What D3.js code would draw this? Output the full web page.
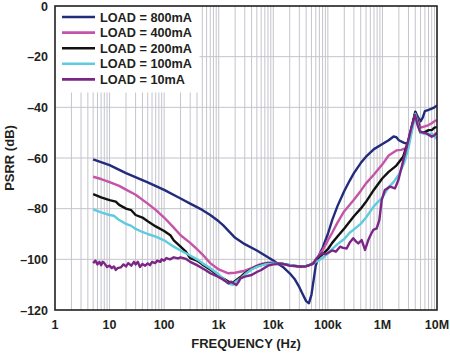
<!DOCTYPE html>
<html>
<head>
<meta charset="utf-8">
<script src="https://cdn.jsdelivr.net/npm/d3@7"></script>
<style>
  body { margin: 0; background: #fff; }
  #chart { width: 450px; height: 353px; }
  text { font-family: "Liberation Sans", Arial, sans-serif; font-weight: bold; fill: #231f20; }
</style>
</head>
<body>
<div id="chart"></div>
<script>
// load labels + tick values
const loadLabels = ["LOAD = 800mA", "LOAD = 400mA", "LOAD = 200mA", "LOAD = 100mA", "LOAD = 10mA"];
const loadColors = ["#222b7c", "#c553a8", "#111111", "#5fcbdf", "#7b2686"];
const yTicks = [0, -20, -40, -60, -80, -100, -120];
const xTicks = [1, 10, 100, 1e3, 1e4, 1e5, 1e6, 1e7];
const xTickLabels = ["1", "10", "100", "1k", "10k", "100k", "1M", "10M"];

// LOAD = 800mA
const freq800 = [5,10,20,50,100,200,300,500,700,1000,1200,2000,3000,5000,10000,15000,20000,25000,30000,35000,40000,45000,50000,55000,60000,70000,80000,100000,120000,150000,200000,250000,300000,400000,500000,700000,1e6,1.3e6,1.6e6,1.8e6,2e6,2.5e6,3e6,3.5e6,4e6,4.5e6,5e6,5.5e6,6e6,7e6,8e6,9e6,1e7];
const psrr800 = [-60.5,-62.8,-66,-69.6,-72.6,-76,-78,-80.5,-82.5,-85,-86.5,-91.5,-94,-96.5,-100.5,-103,-105.5,-108,-111,-114,-116.5,-117.3,-114,-108,-102.5,-98,-95.5,-90,-84.5,-79,-73,-69,-66,-62,-59.5,-56.5,-54.5,-53,-51.5,-51.8,-53,-54,-54.5,-48,-41.7,-44,-45.5,-44,-41.5,-41,-40.5,-40,-39.2];

// LOAD = 400mA
const freq400 = [5,7,10,15,20,30,50,70,100,150,200,300,400,500,700,1000,1500,2000,3000,4000,5000,6000,8000,10000,15000,20000,30000,40000,50000,60000,70000,80000,100000,120000,150000,200000,300000,400000,500000,700000,1e6,1.3e6,1.8e6,2.2e6,2.8e6,3.3e6,4e6,4.5e6,5e6,6e6,7e6,8e6,9e6,1e7];
const psrr400 = [-67.4,-68.3,-69.5,-71,-72.5,-74.5,-78,-80.5,-83.5,-87.5,-90.5,-93.5,-96,-98,-101.5,-104,-105.5,-105.3,-104.5,-103.5,-102.5,-101.8,-101.3,-101.3,-101.8,-102.5,-103,-102.8,-102,-100.5,-98,-96.5,-92.5,-89.5,-85.5,-81,-76.5,-73,-70,-66.5,-62.5,-59,-57,-56.8,-56,-50,-42.4,-45,-48,-47.5,-47,-46.3,-45.5,-45];

// LOAD = 200mA
const freq200 = [5,7,10,13,15,20,25,30,40,50,70,100,130,150,200,250,300,400,500,700,1000,1500,1800,2000,2500,3000,4000,5000,7000,10000,15000,20000,30000,40000,50000,60000,70000,80000,100000,120000,150000,200000,300000,400000,500000,700000,1e6,1.3e6,1.8e6,2.4e6,3e6,3.5e6,4e6,4.5e6,5e6,6e6,7e6,8e6,9e6,1e7];
const psrr200 = [-74.3,-75.5,-76.6,-77.2,-78.5,-80,-80.6,-82.5,-83.5,-85,-87,-88.8,-90.5,-92.5,-95,-97,-99.5,-100.5,-102,-104,-106.5,-108.8,-109.3,-108.5,-107,-105.5,-103.8,-102.8,-101.8,-101.5,-101.8,-102.3,-102.8,-102.7,-102,-100.5,-99,-98,-96,-93.5,-91,-87.8,-83,-80,-77.3,-72.5,-68,-65.5,-63,-59.5,-53,-47,-42,-46,-50,-49.8,-49,-49,-48,-47.8];

// LOAD = 100mA
const freq100 = [5,7,10,12,15,20,25,30,40,50,70,100,150,200,300,400,500,700,1000,1500,1800,2000,2500,3000,4000,5000,7000,10000,20000,30000,40000,50000,60000,70000,80000,100000,120000,150000,200000,250000,300000,400000,500000,700000,1e6,1.3e6,1.6e6,2e6,2.5e6,3e6,3.5e6,4e6,4.5e6,5e6,6e6,7e6,8e6,9e6,1e7];
const psrr100 = [-80.3,-81.5,-82.5,-82.8,-84.5,-86,-86.8,-88,-89.2,-90,-91,-92.5,-95,-96.5,-98.5,-100,-101.5,-103.5,-106,-109.5,-110.1,-109,-107.5,-106,-104,-103,-102,-101.6,-102.2,-102.8,-102.6,-102,-101,-100.3,-99.5,-97.6,-96,-94,-92,-89.5,-88.2,-86,-83.5,-79,-75.5,-71.5,-69.5,-66.5,-62,-56,-49,-42.5,-47,-50,-50.5,-50.8,-50.3,-51.5,-52.5];

// LOAD = 10mA
const freq10 = [5,5.5,6,6.5,7,7.5,8,9,10,11,12,13,14,16,18,20,22,25,28,30,33,36,40,45,50,55,60,68,75,85,90,100,110,128,150,180,200,250,300,400,500,600,700,900,1100,1300,1500,1700,1900,2100,2300,2500,3000,4000,5000,6000,8000,10000,15000,20000,30000,40000,50000,55000,60000,70000,80000,90000,100000,120000,140000,167000,190000,221000,250000,292000,330000,361000,417000,480000,551000,620000,680000,785000,877000,970000,1110000,1380000,1700000,1960000,2380000,2790000,3300000,3950000,4400000,4880000,5600000,6460000,8000000,9000000,1e7];
const psrr10 = [-101.5,-100.5,-102,-101,-102.3,-101,-101.5,-103,-102.5,-103.5,-102.8,-104.2,-103.5,-103.2,-102,-102.8,-101.5,-102.5,-101,-102,-101,-103,-101.8,-102.5,-101.6,-102.3,-101,-101.5,-100.5,-101,-100,-100.5,-99.5,-100,-99.2,-99.6,-99.2,-99.8,-101,-102.3,-103.5,-104.5,-105.5,-106.5,-107.5,-108.5,-109.5,-108.8,-109.5,-110.1,-109,-107.5,-106.8,-106.2,-105,-104.2,-102.5,-102,-101.8,-102.5,-102.8,-102.7,-102,-101.6,-100,-98.5,-97.5,-98,-97.5,-96.5,-97,-95,-95.5,-95.7,-93.5,-91.7,-93,-93.7,-92.4,-96.3,-92.4,-90,-88.4,-87.8,-84.5,-76.6,-72.6,-71.3,-72,-68.7,-61.5,-55.5,-49,-43,-47,-49.6,-50,-50.3,-51.6,-51,-50];

class PsrrChart {
    constructor(containerId) {
        this.containerId = containerId;
        this.margin = { top: 6, right: 13, bottom: 43, left: 55 };
        this.width = 450 - this.margin.left - this.margin.right;
        this.height = 353 - this.margin.top - this.margin.bottom;

        this.series = [
            { freq: freq800, psrr: psrr800 },
            { freq: freq400, psrr: psrr400 },
            { freq: freq200, psrr: psrr200 },
            { freq: freq100, psrr: psrr100 },
            { freq: freq10, psrr: psrr10 }
        ].map((s, i) => ({
            label: loadLabels[i],
            color: loadColors[i],
            values: s.freq.map((f, j) => ({ f: f, v: s.psrr[j] }))
        }));

        this.initChart();
    }

    initChart() {
        let viz = this;
        viz.xScale = d3.scaleLog().domain([1, 1e7]).range([0, viz.width]);
        viz.yScale = d3.scaleLinear().domain([-120, 0]).range([viz.height, 0]);
        this.drawChart();
    }

    drawChart() {
        let viz = this;
        const svg = d3.select(`#${this.containerId}`)
            .append("svg")
            .attr("width", 450)
            .attr("height", 353);

        const g = svg.append("g")
            .attr("transform", "translate(" + this.margin.left + "," + this.margin.top + ")");

        // minor log grid
        const vGrid = [];
        for (let d = 0; d < 7; d++) {
            for (let m = 1; m < 10; m++) {
                const v = m * Math.pow(10, d);
                if (v > 1) vGrid.push(v);
            }
        }
        g.append("g").selectAll("line")
            .data(vGrid)
            .enter().append("line")
            .attr("x1", d => viz.xScale(d))
            .attr("x2", d => viz.xScale(d))
            .attr("y1", 0)
            .attr("y2", viz.height)
            .attr("stroke", "#c4c4cc")
            .attr("stroke-width", 1);

        g.append("g").selectAll("line")
            .data(yTicks.filter(d => d > -120 && d < 0))
            .enter().append("line")
            .attr("x1", 0)
            .attr("x2", viz.width)
            .attr("y1", d => viz.yScale(d))
            .attr("y2", d => viz.yScale(d))
            .attr("stroke", "#c4c4cc")
            .attr("stroke-width", 1);

        // legend background hides the grid
        g.append("rect")
            .attr("x", 0.5)
            .attr("y", 0.5)
            .attr("width", 144)
            .attr("height", 86)
            .attr("fill", "#fff");

        g.append("clipPath").attr("id", "plotClip")
            .append("rect").attr("width", viz.width).attr("height", viz.height);

        const line = d3.line()
            .x(d => viz.xScale(d.f))
            .y(d => viz.yScale(d.v));

        g.append("g").attr("clip-path", "url(#plotClip)")
            .selectAll("path")
            .data(viz.series)
            .enter().append("path")
            .attr("d", d => line(d.values))
            .attr("fill", "none")
            .attr("stroke", d => d.color)
            .attr("stroke-width", 2.4)
            .attr("stroke-linejoin", "round");

        // frame
        g.append("rect")
            .attr("width", viz.width)
            .attr("height", viz.height)
            .attr("fill", "none")
            .attr("stroke", "#231f20")
            .attr("stroke-width", 1.6);

        // y tick labels
        g.append("g").selectAll("text")
            .data(yTicks)
            .enter().append("text")
            .attr("x", -7)
            .attr("y", d => viz.yScale(d))
            .attr("dy", "0.36em")
            .attr("text-anchor", "end")
            .style("font-size", "12.5px")
            .text(d => d === 0 ? "0" : "\u2013" + Math.abs(d));

        // x tick labels
        g.append("g").selectAll("text")
            .data(xTicks)
            .enter().append("text")
            .attr("x", d => viz.xScale(d))
            .attr("y", viz.height + 19)
            .attr("text-anchor", "middle")
            .style("font-size", "12.5px")
            .text((d, i) => xTickLabels[i]);

        // axis titles
        g.append("text")
            .attr("x", viz.width / 2)
            .attr("y", viz.height + 38)
            .attr("text-anchor", "middle")
            .style("font-size", "13px")
            .text("FREQUENCY (Hz)");

        svg.append("text")
            .attr("transform", "translate(14," + (this.margin.top + viz.height / 2) + ") rotate(-90)")
            .attr("text-anchor", "middle")
            .style("font-size", "13px")
            .text("PSRR (dB)");

        // legend
        const legend = g.append("g").selectAll("g")
            .data(viz.series)
            .enter().append("g")
            .attr("transform", (d, i) => "translate(7," + (11 + i * 15.6) + ")");

        legend.append("line")
            .attr("x1", 0).attr("x2", 33)
            .attr("stroke", d => d.color)
            .attr("stroke-width", 2.6);

        legend.append("text")
            .attr("x", 38)
            .attr("dy", "0.36em")
            .style("font-size", "12.7px")
            .text(d => d.label);
    }
}

new PsrrChart("chart");
</script>
</body>
</html>
